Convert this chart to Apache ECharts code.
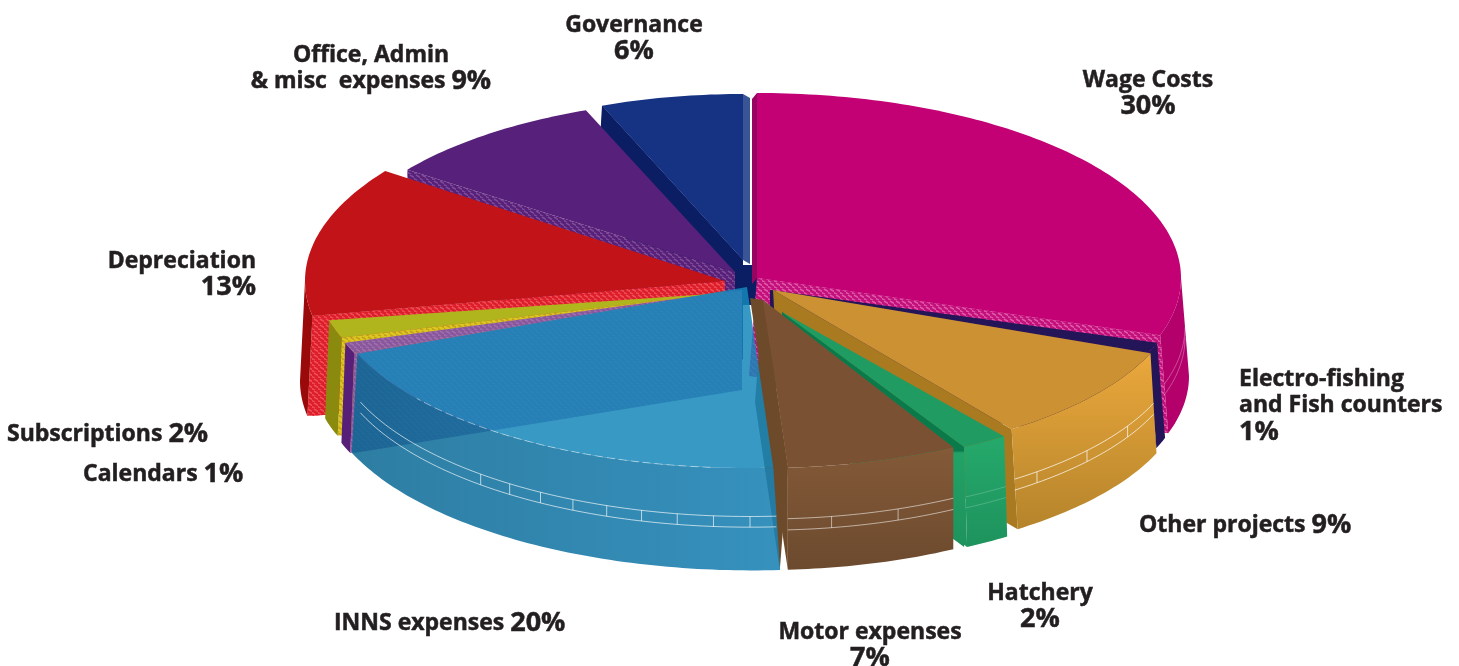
<!DOCTYPE html>
<html>
<head>
<meta charset="utf-8">
<style>
  html, body { margin: 0; padding: 0; background: #fff; }
  #main { width: 1459px; height: 666px; }
</style>
<script src="https://cdn.jsdelivr.net/npm/echarts@6/dist/echarts.min.js"></script>
</head>
<body>
<div id="main"></div>
<script>
const categories = ["Wage Costs", "Electro-fishing and Fish counters", "Other projects", "Hatchery", "Motor expenses", "INNS expenses", "Calendars", "Subscriptions", "Depreciation", "Office, Admin & misc expenses", "Governance"];
const values = [30, 1, 9, 2, 7, 20, 1, 2, 13, 9, 6];
const labels = ["Wage Costs\n30%", "Electro-fishing\nand Fish counters\n1%", "Other projects 9%", "Hatchery\n2%", "Motor expenses\n7%", "INNS expenses 20%", "Calendars 1%", "Subscriptions 2%", "Depreciation\n13%", "Office, Admin\n& misc  expenses 9%", "Governance\n6%"];

function hatch(a, b) {
  const c = document.createElement("canvas");
  c.width = 6;
  c.height = 6;
  const g = c.getContext("2d");
  g.fillStyle = a;
  g.fillRect(0, 0, 6, 6);
  g.strokeStyle = b;
  g.lineWidth = 1.5;
  g.beginPath();
  g.moveTo(-1, 4);
  g.lineTo(4, 7);
  g.moveTo(2, 1);
  g.lineTo(7, 4);
  g.stroke();
  return { image: c, repeat: "repeat" };
}
function vgrad(top, bottom) {
  return new echarts.graphic.LinearGradient(0, 0, 0, 1, [
    { offset: 0, color: top },
    { offset: 1, color: bottom },
  ]);
}
function hgrad(left, right) {
  return new echarts.graphic.LinearGradient(0, 0, 1, 0, [
    { offset: 0, color: left },
    { offset: 1, color: right },
  ]);
}
// hatchery cut wall: dark above the motor slice, bright where it meets the rim
const hatcheryEdge = new echarts.graphic.LinearGradient(0, 0, 0, 1, [
  { offset: 0, color: "#0B7A4A" },
  { offset: 0.59, color: "#0B7A4A" },
  { offset: 0.6, color: "#22A266" },
  { offset: 1, color: "#1E935D" },
]);

// how each exploded slice sits on the page, same order as categories
const look = [
  { z: 3, cx: 757, cy: 278, rx: 424, ry: 185, depth: 98, rimDx: 8, edgeDx: -8, face: "#C30074", wall: "#B3006B", edge: hatch("#C2107C", "#E25BA8"), strip: [-5, 6, "#96055F"], lines: "rgba(255,255,255,.3)" },
  { z: 4, cx: 770, cy: 290, rx: 407, ry: 171, depth: 95, rimDx: 8, face: "#231558", wall: "#231558", edge: "#231558" },
  { z: 5, cx: 773, cy: 290, rx: 406, ry: 172, depth: 100, rimDx: 6, edgeDx: 6, face: "#CC9132", wall: vgrad("#EBA83C", "#B5842B"), edge: "#A97A20", lines: "rgba(255,255,255,.7)", tick: 10 },
  { z: 9, cx: 782, cy: 312, rx: 378, ry: 154, depth: 100, rimDx: 3, face: "#209C63", wall: vgrad("#25A96B", "#1E935D"), edge: hatcheryEdge, lines: "rgba(255,255,255,.2)" },
  { z: 10, cx: 763, cy: 300, rx: 395, ry: 168, depth: 102, edgeDx: -8, face: "#7A5233", wall: vgrad("#845A38", "#6C4A2E"), edge: "#6C4A2A", strip: [-13, -2, "#6C4A2A"], lines: "rgba(255,255,255,.55)", tick: 10 },
  { z: 11, cx: 747, cy: 287, rx: 419, ry: 181, depth: 97, rimDx: 6, rimK: 1.03, face: "rgba(21,135,186,.85)", wall: hgrad("rgba(9,103,147,.85)", "rgba(26,130,180,.88)"), noEdge: true, lines: "rgba(255,255,255,.65)", tick: 5, tickTo: 225, rimLine: true },
  { z: 8, cx: 742, cy: 290, rx: 417, ry: 171, depth: 100, rimDx: -4, face: hatch("#87589B", "#A36DB0"), wall: "#571F78", edge: hatch("#87589B", "#A36DB0") },
  { z: 7, cx: 725, cy: 293, rx: 403, ry: 145, depth: 98, rimDx: -4, face: "#B0B51E", wall: "#8A8A0E", edge: hatch("#D8C820", "#C99A20") },
  { z: 6, cx: 725, cy: 281, rx: 420, ry: 187, depth: 100, rimDx: -5, face: "#C11318", wall: "#9A0A0A", edge: hatch("#DC1F2A", "#F0505A") },
  { z: 2, cx: 735, cy: 272, rx: 405, ry: 174, depth: 100, face: "#57207A", wall: "#57207A", edge: hatch("#57207A", "#7F4C96") },
  { z: 1, cx: 743, cy: 260, rx: 383, ry: 166, depth: 100, edgeDx: -6, face: "#163383", wall: "#163383", edge: "#0B1D63", strip: [7, 4, "#3A5596"], hub: [-2, 5, 16, 40] },
];
const labelPos = [
  { x: 1148, y: 67, align: "center" },
  { x: 1239, y: 366, align: "left" },
  { x: 1139, y: 512, align: "left" },
  { x: 1040, y: 580, align: "center" },
  { x: 870, y: 619, align: "center" },
  { x: 334, y: 610, align: "left" },
  { x: 83, y: 461, align: "left" },
  { x: 7, y: 421, align: "left" },
  { x: 256, y: 248, align: "right" },
  { x: 371, y: 42, align: "center" },
  { x: 634, y: 12, align: "center" },
];

function pt(s, deg, dx, dy, k) {
  const a = (deg * Math.PI) / 180;
  return [s.cx + (dx || 0) + s.rx * (k || 1) * Math.sin(a), s.cy + (dy || 0) - s.ry * (k || 1) * Math.cos(a)];
}
function arc(s, a0, a1, dx, dy, k) {
  const out = [];
  const n = Math.max(2, Math.ceil(Math.abs(a1 - a0)));
  for (let i = 0; i <= n; i++) {
    out.push(pt(s, a0 + ((a1 - a0) * i) / n, dx, dy, k));
  }
  return out;
}
function quad(s, deg, dx, dy) {
  const p = pt(s, deg);
  return [[s.cx, s.cy], p, [p[0] + dx, p[1] + dy], [s.cx + dx, s.cy + dy]];
}

function renderItem(params, api) {
  const i = params.dataIndex;
  const a0 = api.value(0);
  const a1 = api.value(1);
  const s = look[i];
  const base = s.z * 10;
  const kids = [];
  const poly = (points, fill, z) => kids.push({ type: "polygon", z2: base + z, shape: { points }, style: { fill, stroke: null } });
  const line = (points, color, z, dash) => kids.push({ type: "polyline", z2: base + z, shape: { points }, style: { fill: null, stroke: color, lineWidth: 1, lineDash: dash || null } });

  if (s.hub) {
    const [hx, hy, hw, hh] = s.hub;
    const x = s.cx + hx;
    const y = s.cy + hy;
    poly([[x, y], [x + hw, y], [x + hw, y + hh], [x, y + hh]], s.edge, 0);
  }

  const rimDx = s.rimDx || 0;
  const rimK = s.rimK || 1;

  // cut walls that face the viewer, one copy follows the rim so no slit opens beside it
  if (!s.noEdge) {
    const cut = a0 >= 180 ? a0 : a1 <= 180 ? a1 : null;
    if (cut !== null) {
      poly(quad(s, cut, s.edgeDx || 0, s.depth), s.edge, 0);
      if (rimDx !== (s.edgeDx || 0)) poly(quad(s, cut, rimDx, s.depth), s.edge, 0);
    }
  }
  if (s.strip) {
    poly(quad(s, a0 < 1 ? a0 : a1, s.strip[0], s.strip[1]), s.strip[2], 0);
  }

  // outer wall, only the part of the rim that faces the viewer
  const lo = Math.max(a0, 90);
  const hi = Math.min(a1, 270);
  if (lo < hi) {
    poly(arc(s, lo, hi).concat(arc(s, hi, lo, rimDx, s.depth, rimK)), s.wall, 1);

    // the two thin rings round the wall
    if (s.lines) {
      const d1 = s.depth * 0.5;
      const d2 = s.depth * 0.61;
      line(arc(s, lo, hi, rimDx / 2, d1), s.lines, 2);
      line(arc(s, lo, hi, rimDx / 2, d2), s.lines, 2);
      if (s.tick) {
        for (let a = Math.ceil(lo / s.tick) * s.tick; a < (s.tickTo || hi); a += s.tick) {
          const p = pt(s, a, rimDx / 2, d1);
          line([p, [p[0], p[1] + d2 - d1]], s.lines, 2);
        }
      }
    }
  }

  // top face
  poly([[s.cx, s.cy]].concat(arc(s, a0, a1)), s.face, 3);
  if (s.rimLine) line(arc(s, 185, 232), "rgba(255,255,255,.45)", 4, [8, 4]);

  const lp = labelPos[i];
  kids.push({
    type: "text",
    z2: 900,
    style: {
      // the percentages are set a little larger than the names
      text: labels[i].replace(/(\d+%)/, "{p|$1}"),
      x: lp.x,
      y: lp.y,
      align: lp.align,
      verticalAlign: "top",
      font: 'bold 23px "Open Sans"',
      lineHeight: 26.5,
      fill: "#231F20",
      stroke: "#231F20",
      lineWidth: 0.5,
      rich: {
        p: { font: 'bold 27px "Open Sans"', lineHeight: 26.5, fill: "#231F20", stroke: "#231F20", lineWidth: 0.5 },
      },
    },
  });
  return { type: "group", children: kids };
}

let sum = 0;
const total = values.reduce((a, b) => a + b, 0);
const sliceData = values.map((v, i) => {
  const row = [(sum / total) * 360, ((sum + v) / total) * 360, categories[i]];
  sum += v;
  return row;
});

const myChart = echarts.init(document.getElementById("main"));
myChart.setOption({
  animation: false,
  backgroundColor: "#fff",
  series: [
    {
      type: "custom",
      coordinateSystem: "none",
      renderItem: renderItem,
      data: sliceData,
    },
  ],
});
</script>
</body>
</html>
